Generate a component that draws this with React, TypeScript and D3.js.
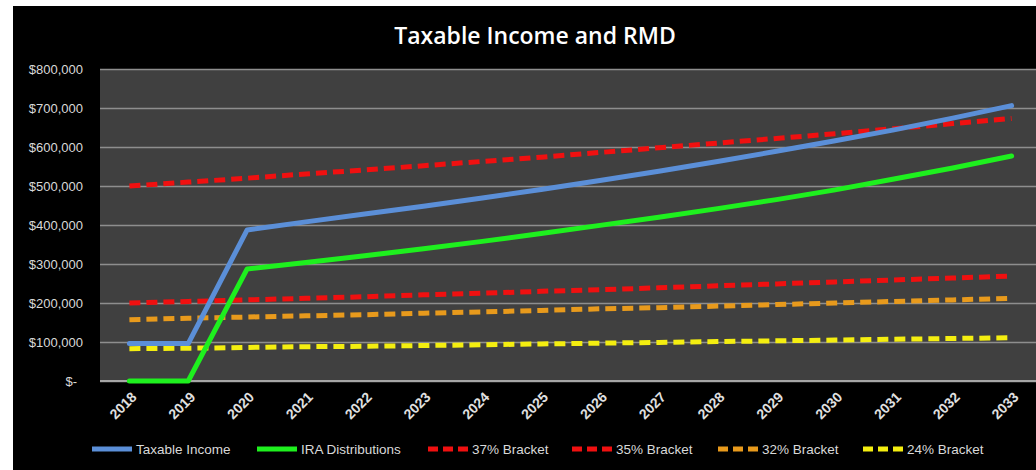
import { useEffect, useRef } from 'react';
import * as d3 from 'd3';

const years = ['2018', '2019', '2020', '2021', '2022', '2023', '2024', '2025', '2026', '2027', '2028', '2029', '2030', '2031', '2032', '2033'];

const taxableIncome = [96, 96, 387, 408, 428, 448, 469, 491, 514, 538, 563, 589, 616, 644, 674, 706];
const iraDistributions = [0, 0, 287, 304, 321, 339, 358, 378, 399, 420, 442, 465, 490, 518, 546, 577];
const bracket37 = [500, 510, 520, 531, 541, 552, 563, 574, 586, 598, 610, 622, 634, 647, 660, 673];
const bracket35 = [200, 204, 208, 212, 216, 221, 225, 230, 234, 239, 244, 249, 254, 259, 264, 269];
const bracket32 = [157, 161, 164, 167, 170, 174, 177, 181, 185, 188, 192, 196, 200, 204, 208, 212];
const bracket24 = [83, 84, 86, 88, 89, 91, 93, 95, 97, 99, 101, 103, 105, 107, 109, 111];

const yTicks = [0, 100, 200, 300, 400, 500, 600, 700, 800];

const series = [
  { name: 'Taxable Income', values: taxableIncome, color: '#5b8fd8', dash: null },
  { name: 'IRA Distributions', values: iraDistributions, color: '#1ef01e', dash: null },
  { name: '37% Bracket', values: bracket37, color: '#f01010', dash: '11,6' },
  { name: '35% Bracket', values: bracket35, color: '#f01010', dash: '11,6' },
  { name: '32% Bracket', values: bracket32, color: '#e89a1c', dash: '11,6' },
  { name: '24% Bracket', values: bracket24, color: '#f4ee10', dash: '11,6' },
];

const legendX = [92, 257, 428, 572, 718, 863];

export default function App() {
  const svgRef = useRef<SVGSVGElement>(null);

  useEffect(() => {
    const svg = d3.select(svgRef.current);
    svg.selectAll('*').remove();

    const W = 1036;
    const H = 470;
    const plot = { left: 100, top: 69, right: 1041, bottom: 381 };
    const font = '"Liberation Sans", Arial, sans-serif';

    svg.append('rect').attr('width', W).attr('height', H).attr('fill', '#ffffff');
    svg.append('rect').attr('x', 13).attr('y', 6).attr('width', W - 13).attr('height', H - 6).attr('fill', '#000000');

    svg.append('text')
      .attr('x', 535)
      .attr('y', 44)
      .attr('text-anchor', 'middle')
      .attr('fill', '#ffffff')
      .attr('font-family', '"Open Sans", sans-serif')
      .attr('font-weight', 600)
      .attr('font-size', 23)
      .text('Taxable Income and RMD');

    const x = d3.scalePoint<string>().domain(years).range([plot.left, plot.right]).padding(0.5);
    const y = d3.scaleLinear().domain([0, 800]).range([plot.bottom, plot.top]);

    svg.append('rect')
      .attr('x', plot.left)
      .attr('y', plot.top)
      .attr('width', plot.right - plot.left)
      .attr('height', plot.bottom - plot.top)
      .attr('fill', '#404040');

    // gridlines
    svg.append('g')
      .attr('transform', `translate(${plot.left},0)`)
      .call(d3.axisLeft(y).tickValues(yTicks).tickSize(-(plot.right - plot.left)).tickFormat('' as any))
      .call(g => g.select('.domain').remove())
      .call(g => g.selectAll('line').attr('stroke', '#8e8e8e').attr('stroke-width', 1.5));

    // y labels
    svg.append('g')
      .selectAll('text')
      .data(yTicks)
      .enter().append('text')
      .attr('x', d => (d === 0 ? 77 : 83))
      .attr('y', d => y(d) + 4.5)
      .attr('text-anchor', 'end')
      .attr('fill', '#d9d9d9')
      .attr('font-family', font)
      .attr('font-size', 13)
      .text(d => (d === 0 ? '$-' : d3.format('$,')(d * 1000)));

    // bottom axis line
    svg.append('line')
      .attr('x1', plot.left).attr('x2', plot.right)
      .attr('y1', plot.bottom).attr('y2', plot.bottom)
      .attr('stroke', '#a6a6a6').attr('stroke-width', 2);

    // x labels
    svg.append('g')
      .selectAll('text')
      .data(years)
      .enter().append('text')
      .attr('transform', d => `translate(${x(d)! + 8},${plot.bottom + 17}) rotate(-45)`)
      .attr('text-anchor', 'end')
      .attr('fill', '#e0e0e0')
      .attr('font-family', font)
      .attr('font-weight', 'bold')
      .attr('font-size', 14)
      .text(d => d);

    // lines
    const line = d3.line<number>()
      .x((_, i) => x(years[i])!)
      .y(d => y(d));

    const drawOrder = [2, 3, 4, 5, 1, 0];
    drawOrder.forEach(si => {
      const s = series[si];
      svg.append('path')
        .datum(s.values)
        .attr('d', line)
        .attr('fill', 'none')
        .attr('stroke', s.color)
        .attr('stroke-width', 5)
        .attr('stroke-linejoin', 'round')
        .attr('stroke-dasharray', s.dash)
        .attr('stroke-linecap', s.dash ? 'butt' : 'round');
    });

    // legend
    const legend = svg.append('g');
    series.forEach((s, i) => {
      const lx = legendX[i];
      const ly = 449;
      legend.append('line')
        .attr('x1', lx).attr('x2', lx + 40)
        .attr('y1', ly).attr('y2', ly)
        .attr('stroke', s.color)
        .attr('stroke-width', 5)
        .attr('stroke-dasharray', s.dash ? '10,5' : null)
        .attr('stroke-linecap', 'butt');
      legend.append('text')
        .attr('x', lx + 44)
        .attr('y', ly + 5)
        .attr('fill', '#d9d9d9')
        .attr('font-family', font)
        .attr('font-size', 13.5)
        .text(s.name);
    });
  }, []);

  return (
    <svg
      ref={svgRef}
      width={1036}
      height={470}
      style={{ position: 'absolute', left: 0, top: 0, display: 'block' }}
    />
  );
}
